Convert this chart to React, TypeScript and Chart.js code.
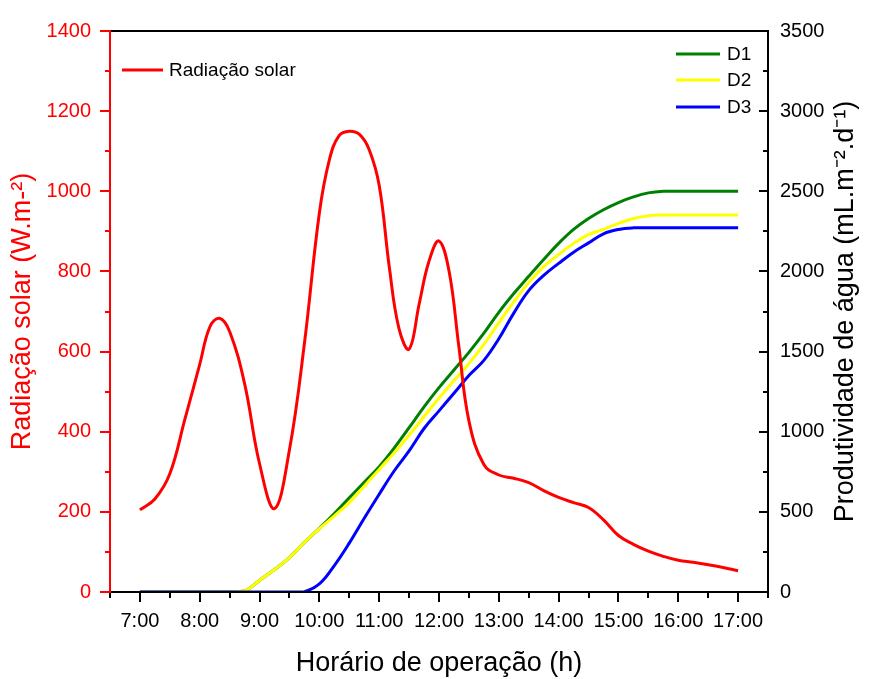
import React, { useEffect, useRef } from 'react';
import { Chart, registerables } from 'chart.js';

Chart.register(...registerables);

const FONT = '"Liberation Sans", Arial, Helvetica, sans-serif';
const RED = '#ff0000';

// x axis: hours of the day
const hourTicks = [7, 8, 9, 10, 11, 12, 13, 14, 15, 16, 17];

// Solar radiation (W.m-2)
const radTimes = [
  7.0, 7.25, 7.5, 7.75, 8.0, 8.17, 8.33, 8.5, 8.75, 9.0, 9.25, 9.5, 9.75,
  10.0, 10.17, 10.33, 10.5, 10.67, 10.83, 11.0, 11.17, 11.33, 11.5, 11.67, 11.83,
  12.0, 12.17, 12.33, 12.5, 12.75, 13.0, 13.25, 13.5, 13.75, 14.0, 14.25, 14.5,
  14.75, 15.0, 15.25, 15.5, 15.75, 16.0, 16.25, 16.5, 16.75, 17.0,
];
const radiation = [
  205, 232, 295, 430, 568, 662, 683, 650, 520, 320, 208, 355, 620,
  946, 1080, 1139, 1150, 1142, 1105, 1015, 810, 658, 606, 720, 824,
  876, 799, 615, 427, 318, 292, 284, 273, 253, 236, 223, 211,
  180, 141, 119, 102, 89, 79, 74, 68, 61, 53,
];

// Water productivity (mL.m-2.d-1)
const prodTimes = [
  7.0, 7.25, 7.5, 7.75, 8.0, 8.25, 8.5, 8.75, 9.0, 9.25, 9.5, 9.75,
  10.0, 10.25, 10.5, 10.75, 11.0, 11.25, 11.5, 11.75, 12.0, 12.25, 12.5, 12.75,
  13.0, 13.25, 13.5, 13.75, 14.0, 14.25, 14.5, 14.75, 15.0, 15.25, 15.5, 15.75,
  16.0, 16.25, 16.5, 16.75, 17.0,
];
const d1 = [
  0, 0, 0, 0, 0, 0, 0, 6, 72, 140, 215, 310,
  397, 490, 588, 685, 782, 898, 1025, 1155, 1275, 1385, 1495, 1615,
  1745, 1862, 1970, 2075, 2175, 2262, 2330, 2385, 2430, 2465, 2490, 2500,
  2500, 2500, 2500, 2500, 2500,
];
const d2 = [
  0, 0, 0, 0, 0, 0, 0, 6, 72, 140, 215, 310,
  395, 475, 558, 660, 765, 868, 978, 1095, 1210, 1320, 1425, 1545,
  1680, 1810, 1930, 2030, 2105, 2175, 2230, 2262, 2300, 2330, 2348, 2352,
  2352, 2352, 2352, 2352, 2352,
];
const d3 = [
  0, 0, 0, 0, 0, 0, 0, 0, 0, 0, 0, 2,
  50, 165, 305, 460, 610, 755, 880, 1020, 1130, 1240, 1350, 1445,
  1580, 1740, 1880, 1975, 2050, 2120, 2178, 2235, 2262, 2272, 2272, 2272,
  2272, 2272, 2272, 2272, 2272,
];

const toXY = (xs: number[], ys: number[]) => xs.map((x, i) => ({ x, y: ys[i] }));

const decorPlugin = {
  id: 'decor',
  afterDraw(chart: any) {
    const { ctx, chartArea, scales } = chart;
    const { left, right, top, bottom } = chartArea;
    const line = (x1: number, y1: number, x2: number, y2: number) => {
      ctx.beginPath();
      ctx.moveTo(x1, y1);
      ctx.lineTo(x2, y2);
      ctx.stroke();
    };
    ctx.save();
    ctx.lineCap = 'butt';
    ctx.lineWidth = 2;

    // frame
    ctx.strokeStyle = '#000';
    line(left - 1, top, right + 1, top);
    line(right, top, right, bottom + 1);
    line(left - 1, bottom, right + 1, bottom);

    // x ticks (outward, below)
    const xs = scales.x;
    for (let h = 6.5; h <= 17.5001; h += 0.5) {
      const px = Math.round(xs.getPixelForValue(h));
      const major = Math.abs(h - Math.round(h)) < 1e-6;
      line(px, bottom, px, bottom + (major ? 10 : 6));
    }

    // right ticks (inward)
    const yr = scales.yR;
    for (let v = 0; v <= 3500; v += 250) {
      const py = Math.round(yr.getPixelForValue(v));
      const major = v % 500 === 0;
      line(right, py, right - (major ? 9 : 5), py);
    }

    // left axis (red)
    ctx.strokeStyle = RED;
    line(left, top - 1, left, bottom + 1);
    const yl = scales.yL;
    for (let v = 0; v <= 1400; v += 100) {
      const py = Math.round(yl.getPixelForValue(v));
      const major = v % 200 === 0;
      line(left, py, left - (major ? 10 : 5), py);
    }

    // axis titles
    ctx.textAlign = 'center';
    ctx.textBaseline = 'middle';
    ctx.font = `27px ${FONT}`;
    const cy = (top + bottom) / 2;

    ctx.fillStyle = RED;
    ctx.save();
    ctx.translate(23, cy);
    ctx.rotate(-Math.PI / 2);
    ctx.fillText('Radiação solar (W.m-²)', 0, 0);
    ctx.restore();

    ctx.fillStyle = '#000';
    ctx.save();
    ctx.translate(846, cy);
    ctx.rotate(-Math.PI / 2);
    ctx.fillText('Produtividade de água (mL.m⁻².d⁻¹)', 0, 0);
    ctx.restore();

    ctx.fillText('Horário de operação (h)', 439, 664);

    // legends
    ctx.font = `19px ${FONT}`;
    ctx.textAlign = 'left';
    ctx.lineWidth = 3;
    ctx.strokeStyle = RED;
    line(122, 70, 163, 70);
    ctx.fillStyle = '#000';
    ctx.fillText('Radiação solar', 169, 71);

    const legendItems = [
      { label: 'D1', color: '#008000', y: 54 },
      { label: 'D2', color: '#ffff00', y: 80 },
      { label: 'D3', color: '#0000ff', y: 107 },
    ];
    legendItems.forEach((it) => {
      ctx.strokeStyle = it.color;
      line(676, it.y, 720, it.y);
      ctx.fillStyle = '#000';
      ctx.fillText(it.label, 727, it.y + 1);
    });

    ctx.restore();
  },
};

export default function App() {
  const ref = useRef<HTMLCanvasElement>(null);

  useEffect(() => {
    const common = {
      fill: false,
      borderWidth: 3,
      pointRadius: 0,
      tension: 0.4,
      cubicInterpolationMode: 'default' as const,
    };
    const chart = new Chart(ref.current as HTMLCanvasElement, {
      type: 'line',
      data: {
        datasets: [
          { ...common, label: 'Radiação solar', data: toXY(radTimes, radiation), borderColor: RED, yAxisID: 'yL' },
          { ...common, label: 'D3', data: toXY(prodTimes, d3), borderColor: '#0000ff', yAxisID: 'yR' },
          { ...common, label: 'D2', data: toXY(prodTimes, d2), borderColor: '#ffff00', yAxisID: 'yR' },
          { ...common, label: 'D1', data: toXY(prodTimes, d1), borderColor: '#008000', yAxisID: 'yR' },
        ],
      },
      options: {
        responsive: false,
        animation: false,
        devicePixelRatio: 1,
        events: [],
        layout: { padding: { top: 28, left: 0, right: 0, bottom: 0 } },
        plugins: { legend: { display: false }, tooltip: { enabled: false }, title: { display: false } },
        scales: {
          x: {
            type: 'linear',
            position: 'bottom',
            min: 6.5,
            max: 17.5,
            afterBuildTicks: (s: any) => {
              s.ticks = hourTicks.map((v) => ({ value: v }));
            },
            afterFit: (s: any) => {
              s.height = 87;
            },
            border: { display: false },
            grid: { display: false, drawTicks: false },
            ticks: {
              color: '#000',
              font: { family: FONT, size: 20 },
              padding: 17,
              autoSkip: false,
              maxRotation: 0,
              callback: (v: any) => `${v}:00`,
            },
          },
          yL: {
            type: 'linear',
            position: 'left',
            min: 0,
            max: 1400,
            afterFit: (s: any) => {
              s.width = 110;
            },
            border: { display: false },
            grid: { display: false, drawTicks: false },
            ticks: {
              stepSize: 200,
              color: RED,
              font: { family: FONT, size: 20 },
              padding: 19,
              callback: (v: any) => String(v),
            },
          },
          yR: {
            type: 'linear',
            position: 'right',
            min: 0,
            max: 3500,
            afterFit: (s: any) => {
              s.width = 101;
            },
            border: { display: false },
            grid: { display: false, drawTicks: false },
            ticks: {
              stepSize: 500,
              color: '#000',
              font: { family: FONT, size: 20 },
              padding: 12,
              callback: (v: any) => String(v),
            },
          },
        },
      },
      plugins: [decorPlugin],
    } as any);
    return () => chart.destroy();
  }, []);

  return (
    <div style={{ position: 'absolute', left: 0, top: 0, width: 869, height: 679, background: '#fff' }}>
      <canvas ref={ref} width={869} height={679} style={{ display: 'block' }} />
    </div>
  );
}
